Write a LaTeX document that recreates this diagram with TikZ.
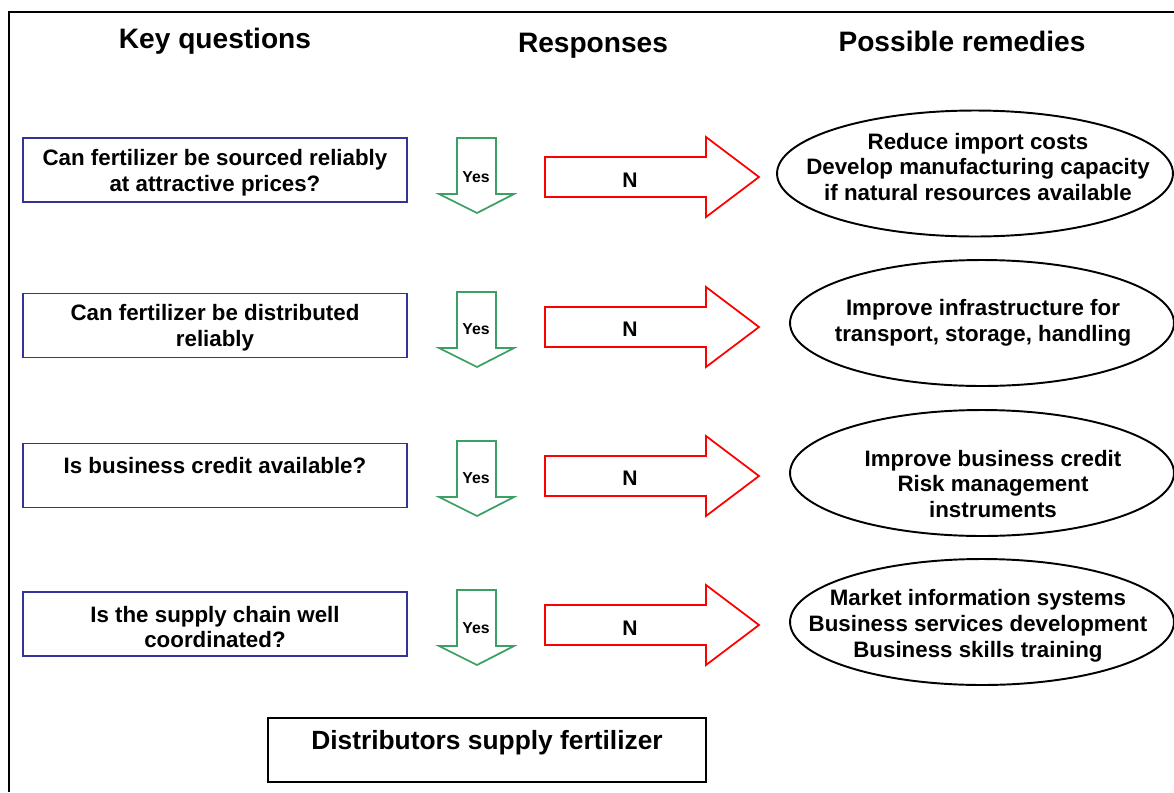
\documentclass[tikz,border=0pt]{standalone}
\usepackage{fontspec}
\setmainfont{Liberation Sans}
\usepackage{tikz}
\usetikzlibrary{shapes.geometric}
\definecolor{qblue}{RGB}{51,51,153}
\definecolor{yesgreen}{RGB}{60,160,100}
\def\yesarrow#1{(457,#1) -- (496,#1) -- (496,#1+56) -- (514,#1+56) -- (477,#1+75) -- (439,#1+56) -- (457,#1+56) -- cycle}
\def\noarrow#1{(545,#1+20) -- (706,#1+20) -- (706,#1) -- (759,#1+40) -- (706,#1+80) -- (706,#1+60) -- (545,#1+60) -- cycle}

\begin{document}
\begin{tikzpicture}[x=0.02cm,y=-0.02cm,
    head/.style={anchor=base,font=\fontsize{16}{19}\selectfont\bfseries},
    qbox/.style={draw=qblue,line width=1pt,minimum width=7.68cm,minimum height=1.28cm},
    qtext/.style={align=center,font=\fontsize{12.7}{14.7}\selectfont\bfseries},
    remedy/.style={draw,ellipse,line width=1.1pt,minimum width=7.68cm,minimum height=2.52cm},
    yestext/.style={font=\fontsize{9}{10}\selectfont\bfseries},
    notext/.style={font=\fontsize{12}{14}\selectfont\bfseries}]
    \useasboundingbox (0,0) rectangle (1174,792);
    \draw[line width=1.4pt] (9,792) -- (9,12) -- (1174,12);
    \node[head] (keyq) at (215,48) {Key questions};
    \node[head] (resp) at (593,52) {Responses};
    \node[head] (remed) at (962,51) {Possible remedies};

    \node[qbox] (q1) at (215,170) {};
    \node[qtext] (q1t) at (215,173) {Can fertilizer be sourced reliably\\at attractive prices?};
    \node[qbox] (q2) at (215,325.5) {};
    \node[qtext] (q2t) at (215,328) {Can fertilizer be distributed\\reliably};
    \node[qbox] (q3) at (215,475.5) {};
    \node[qtext] (q3t) at (215,466) {Is business credit available?};
    \node[qbox] (q4) at (215,624) {};
    \node[qtext] (q4t) at (215,627) {Is the supply chain well\\coordinated?};

    \draw[yesgreen,line width=1pt] \yesarrow{138};
    \node[yestext] (y1) at (476,177) {Yes};
    \draw[yesgreen,line width=1pt] \yesarrow{292};
    \node[yestext] (y2) at (476,329) {Yes};
    \draw[yesgreen,line width=1pt] \yesarrow{441};
    \node[yestext] (y3) at (476,478) {Yes};
    \draw[yesgreen,line width=1pt] \yesarrow{590};
    \node[yestext] (y4) at (476,628) {Yes};

    \draw[red,line width=1pt] \noarrow{137};
    \node[notext] (n1) at (630,180) {N};
    \draw[red,line width=1pt] \noarrow{287};
    \node[notext] (n2) at (630,329) {N};
    \draw[red,line width=1pt] \noarrow{436};
    \node[notext] (n3) at (630,478) {N};
    \draw[red,line width=1pt] \noarrow{585};
    \node[notext] (n4) at (630,628) {N};

    \node[remedy,minimum width=7.92cm] (r1) at (975,173.5) {};
    \node[qtext] (r1t) at (978,167) {Reduce import costs\\Develop manufacturing capacity\\if natural resources available};
    \node[remedy] (r2) at (982,323) {};
    \node[qtext] (r2t) at (983,323) {Improve infrastructure for\\transport, storage, handling};
    \node[remedy] (r3) at (982,473) {};
    \node[qtext] (r3t) at (993,484) {Improve business credit\\Risk management\\instruments};
    \node[remedy] (r4) at (982,622) {};
    \node[qtext] (r4t) at (978,626) {Market information systems\\Business services development\\Business skills training};

    \node[draw,line width=1.1pt,minimum width=8.76cm,minimum height=1.28cm] (supply) at (487,750) {};
    \node[font=\fontsize{15}{18}\selectfont\bfseries] (supplyt) at (487,743) {Distributors supply fertilizer};
\end{tikzpicture}
\end{document}
